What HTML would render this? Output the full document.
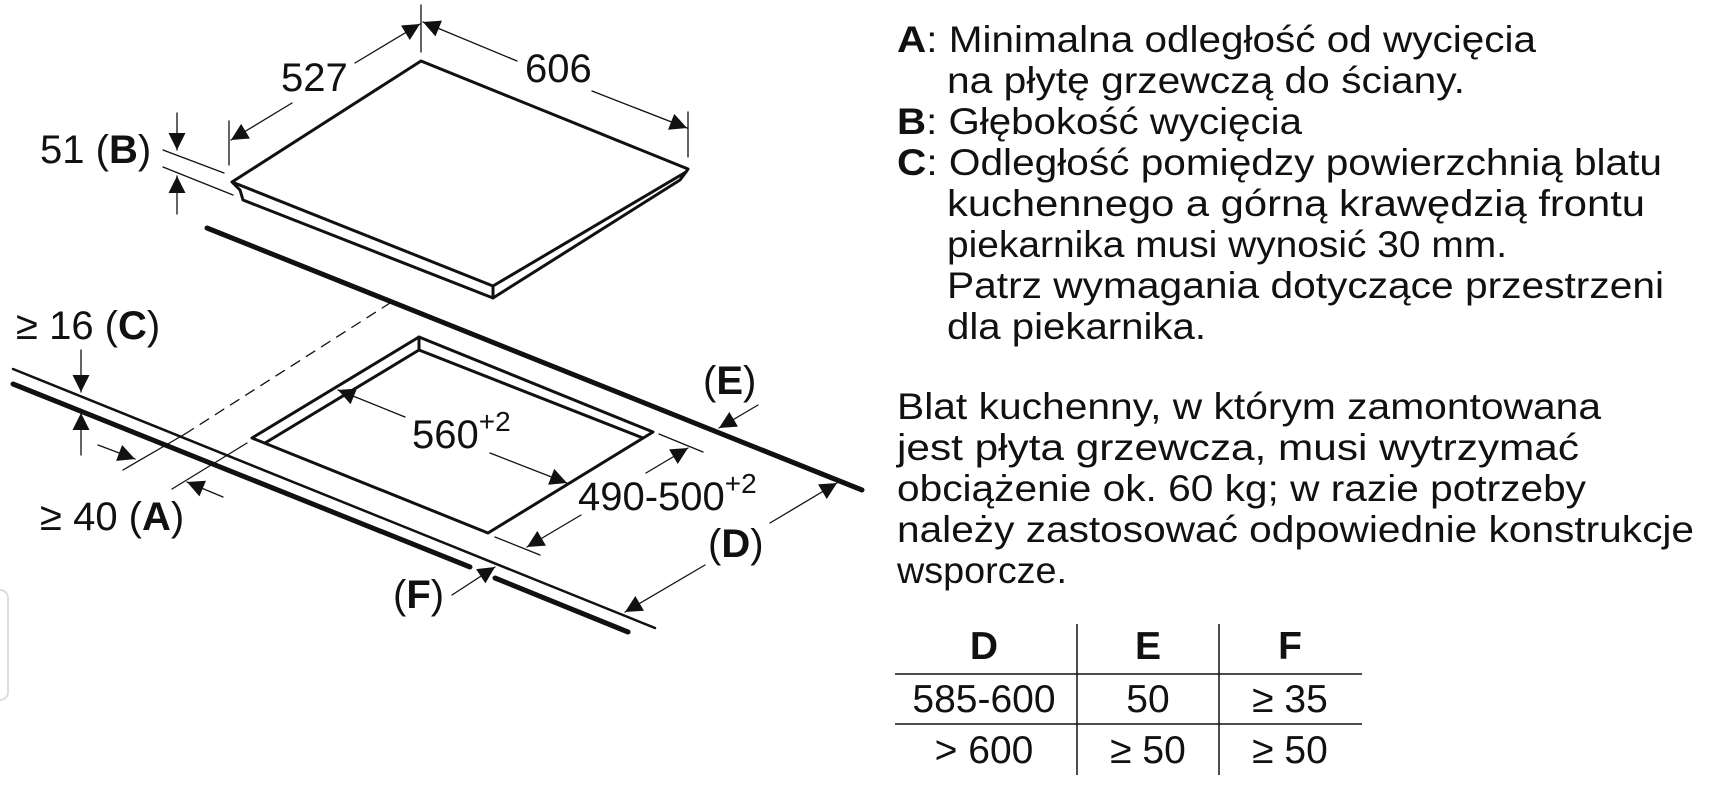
<!DOCTYPE html>
<html><head><meta charset="utf-8"><style>
html,body{margin:0;padding:0;background:#fff;}
svg{display:block;}
text{font-family:"Liberation Sans",Arial,sans-serif;fill:#111;}
</style></head><body>
<svg width="1723" height="810" viewBox="0 0 1723 810" xmlns="http://www.w3.org/2000/svg">
<defs>
<marker id="ar" viewBox="0 0 10 10" refX="10" refY="5" markerWidth="28" markerHeight="17" markerUnits="userSpaceOnUse" orient="auto"><path d="M0,0 L10,5 L0,10 z" fill="#111"/></marker>
</defs>
<rect x="-10" y="590" width="18" height="110" rx="8" fill="none" stroke="#ddd" stroke-width="2"/>
<g stroke="#111" fill="none" stroke-linecap="round" stroke-linejoin="round">
<path d="M232,182 L421,61 L688,169 M232,182 L493,286 L686,172 M688,169 L686,172 L680,180 L493,298 L493,286 M232,182 L240,190 L243,200 L493,298" stroke-width="3"/>
<line x1="207" y1="228" x2="862" y2="490" stroke-width="5"/>
<line x1="13" y1="369" x2="655" y2="628" stroke-width="2.5"/>
<line x1="13" y1="384" x2="470" y2="567" stroke-width="5"/>
<line x1="495" y1="578" x2="628" y2="632" stroke-width="5"/>
<path d="M252,438 L419,337 L653,432 L488,533 Z" stroke-width="3"/>
<path d="M419,337 L419,350 L265,443 M419,350 L643,438" stroke-width="3"/>
<g stroke-width="1.3">
<line x1="229" y1="121" x2="229" y2="165"/>
<line x1="421" y1="5" x2="421" y2="52"/>
<line x1="688" y1="112" x2="688" y2="157"/>
<line x1="163" y1="150" x2="224" y2="173"/>
<line x1="163" y1="167" x2="233" y2="195"/>
<line x1="123" y1="470" x2="185" y2="434"/>
<line x1="185" y1="434" x2="390" y2="303" stroke-dasharray="10,8"/>
<line x1="172" y1="489" x2="247" y2="443"/>
<line x1="659" y1="434" x2="703" y2="452"/>
<line x1="495" y1="537" x2="540" y2="555"/>
</g>
<g stroke-width="1.3" marker-end="url(#ar)">
<line x1="292" y1="103" x2="231" y2="140"/>
<line x1="355" y1="63" x2="420" y2="24"/>
<line x1="517" y1="61" x2="423" y2="22"/>
<line x1="592" y1="91" x2="687" y2="128"/>
<line x1="177" y1="113" x2="177" y2="150"/>
<line x1="177" y1="214" x2="177" y2="176"/>
<line x1="81" y1="350" x2="81" y2="392"/>
<line x1="81" y1="455" x2="81" y2="413"/>
<line x1="98" y1="445" x2="135" y2="459"/>
<line x1="223" y1="497" x2="187" y2="482"/>
<line x1="405" y1="417" x2="338" y2="390"/>
<line x1="490" y1="453" x2="567" y2="483"/>
<line x1="646" y1="473" x2="688" y2="448"/>
<line x1="581" y1="515" x2="527" y2="547"/>
<line x1="758" y1="405" x2="719" y2="428"/>
<line x1="770" y1="523" x2="837" y2="483"/>
<line x1="705" y1="565" x2="625" y2="612"/>
<line x1="452" y1="595" x2="495" y2="567"/>
</g>
</g>
<g font-size="40">
<text x="281" y="91">527</text>
<text x="525" y="82">606</text>
<text x="40" y="163">51 (<tspan font-weight="bold">B</tspan>)</text>
<text x="16" y="339">≥ 16 (<tspan font-weight="bold">C</tspan>)</text>
<text x="40" y="530">≥ 40 (<tspan font-weight="bold">A</tspan>)</text>
<text x="412" y="448">560<tspan font-size="28" dy="-17">+2</tspan></text>
<text x="578" y="510">490-500<tspan font-size="28" dy="-17">+2</tspan></text>
<text x="703" y="394">(<tspan font-weight="bold">E</tspan>)</text>
<text x="708" y="557">(<tspan font-weight="bold">D</tspan>)</text>
<text x="393" y="608">(<tspan font-weight="bold">F</tspan>)</text>
</g>
<g font-size="37">
<text x="897" y="52" textLength="639" lengthAdjust="spacingAndGlyphs"><tspan font-weight="bold">A</tspan>: Minimalna odległość od wycięcia</text>
<text x="947" y="93" textLength="518" lengthAdjust="spacingAndGlyphs">na płytę grzewczą do ściany.</text>
<text x="897" y="134" textLength="405" lengthAdjust="spacingAndGlyphs"><tspan font-weight="bold">B</tspan>: Głębokość wycięcia</text>
<text x="897" y="175" textLength="765" lengthAdjust="spacingAndGlyphs"><tspan font-weight="bold">C</tspan>: Odległość pomiędzy powierzchnią blatu</text>
<text x="947" y="216" textLength="698" lengthAdjust="spacingAndGlyphs">kuchennego a górną krawędzią frontu</text>
<text x="947" y="257" textLength="560" lengthAdjust="spacingAndGlyphs">piekarnika musi wynosić 30 mm.</text>
<text x="947" y="298" textLength="717" lengthAdjust="spacingAndGlyphs">Patrz wymagania dotyczące przestrzeni</text>
<text x="947" y="339" textLength="259" lengthAdjust="spacingAndGlyphs">dla piekarnika.</text>
<text x="897" y="419" textLength="704" lengthAdjust="spacingAndGlyphs">Blat kuchenny, w którym zamontowana</text>
<text x="897" y="460" textLength="682" lengthAdjust="spacingAndGlyphs">jest płyta grzewcza, musi wytrzymać</text>
<text x="897" y="501" textLength="689" lengthAdjust="spacingAndGlyphs">obciążenie ok. 60 kg; w razie potrzeby</text>
<text x="897" y="542" textLength="797" lengthAdjust="spacingAndGlyphs">należy zastosować odpowiednie konstrukcje</text>
<text x="897" y="583" textLength="170" lengthAdjust="spacingAndGlyphs">wsporcze.</text>
</g>
<g stroke="#111" stroke-width="1.5">
<line x1="1077" y1="624" x2="1077" y2="775"/>
<line x1="1219" y1="624" x2="1219" y2="775"/>
<line x1="895" y1="674" x2="1362" y2="674"/>
<line x1="895" y1="724" x2="1362" y2="724"/>
</g>
<g font-size="39" text-anchor="middle">
<text x="984" y="659" font-weight="bold">D</text>
<text x="1148" y="659" font-weight="bold">E</text>
<text x="1290" y="659" font-weight="bold">F</text>
<text x="984" y="712">585-600</text>
<text x="1148" y="712">50</text>
<text x="1290" y="712">≥ 35</text>
<text x="984" y="763">&gt; 600</text>
<text x="1148" y="763">≥ 50</text>
<text x="1290" y="763">≥ 50</text>
</g>
</svg>
</body></html>
